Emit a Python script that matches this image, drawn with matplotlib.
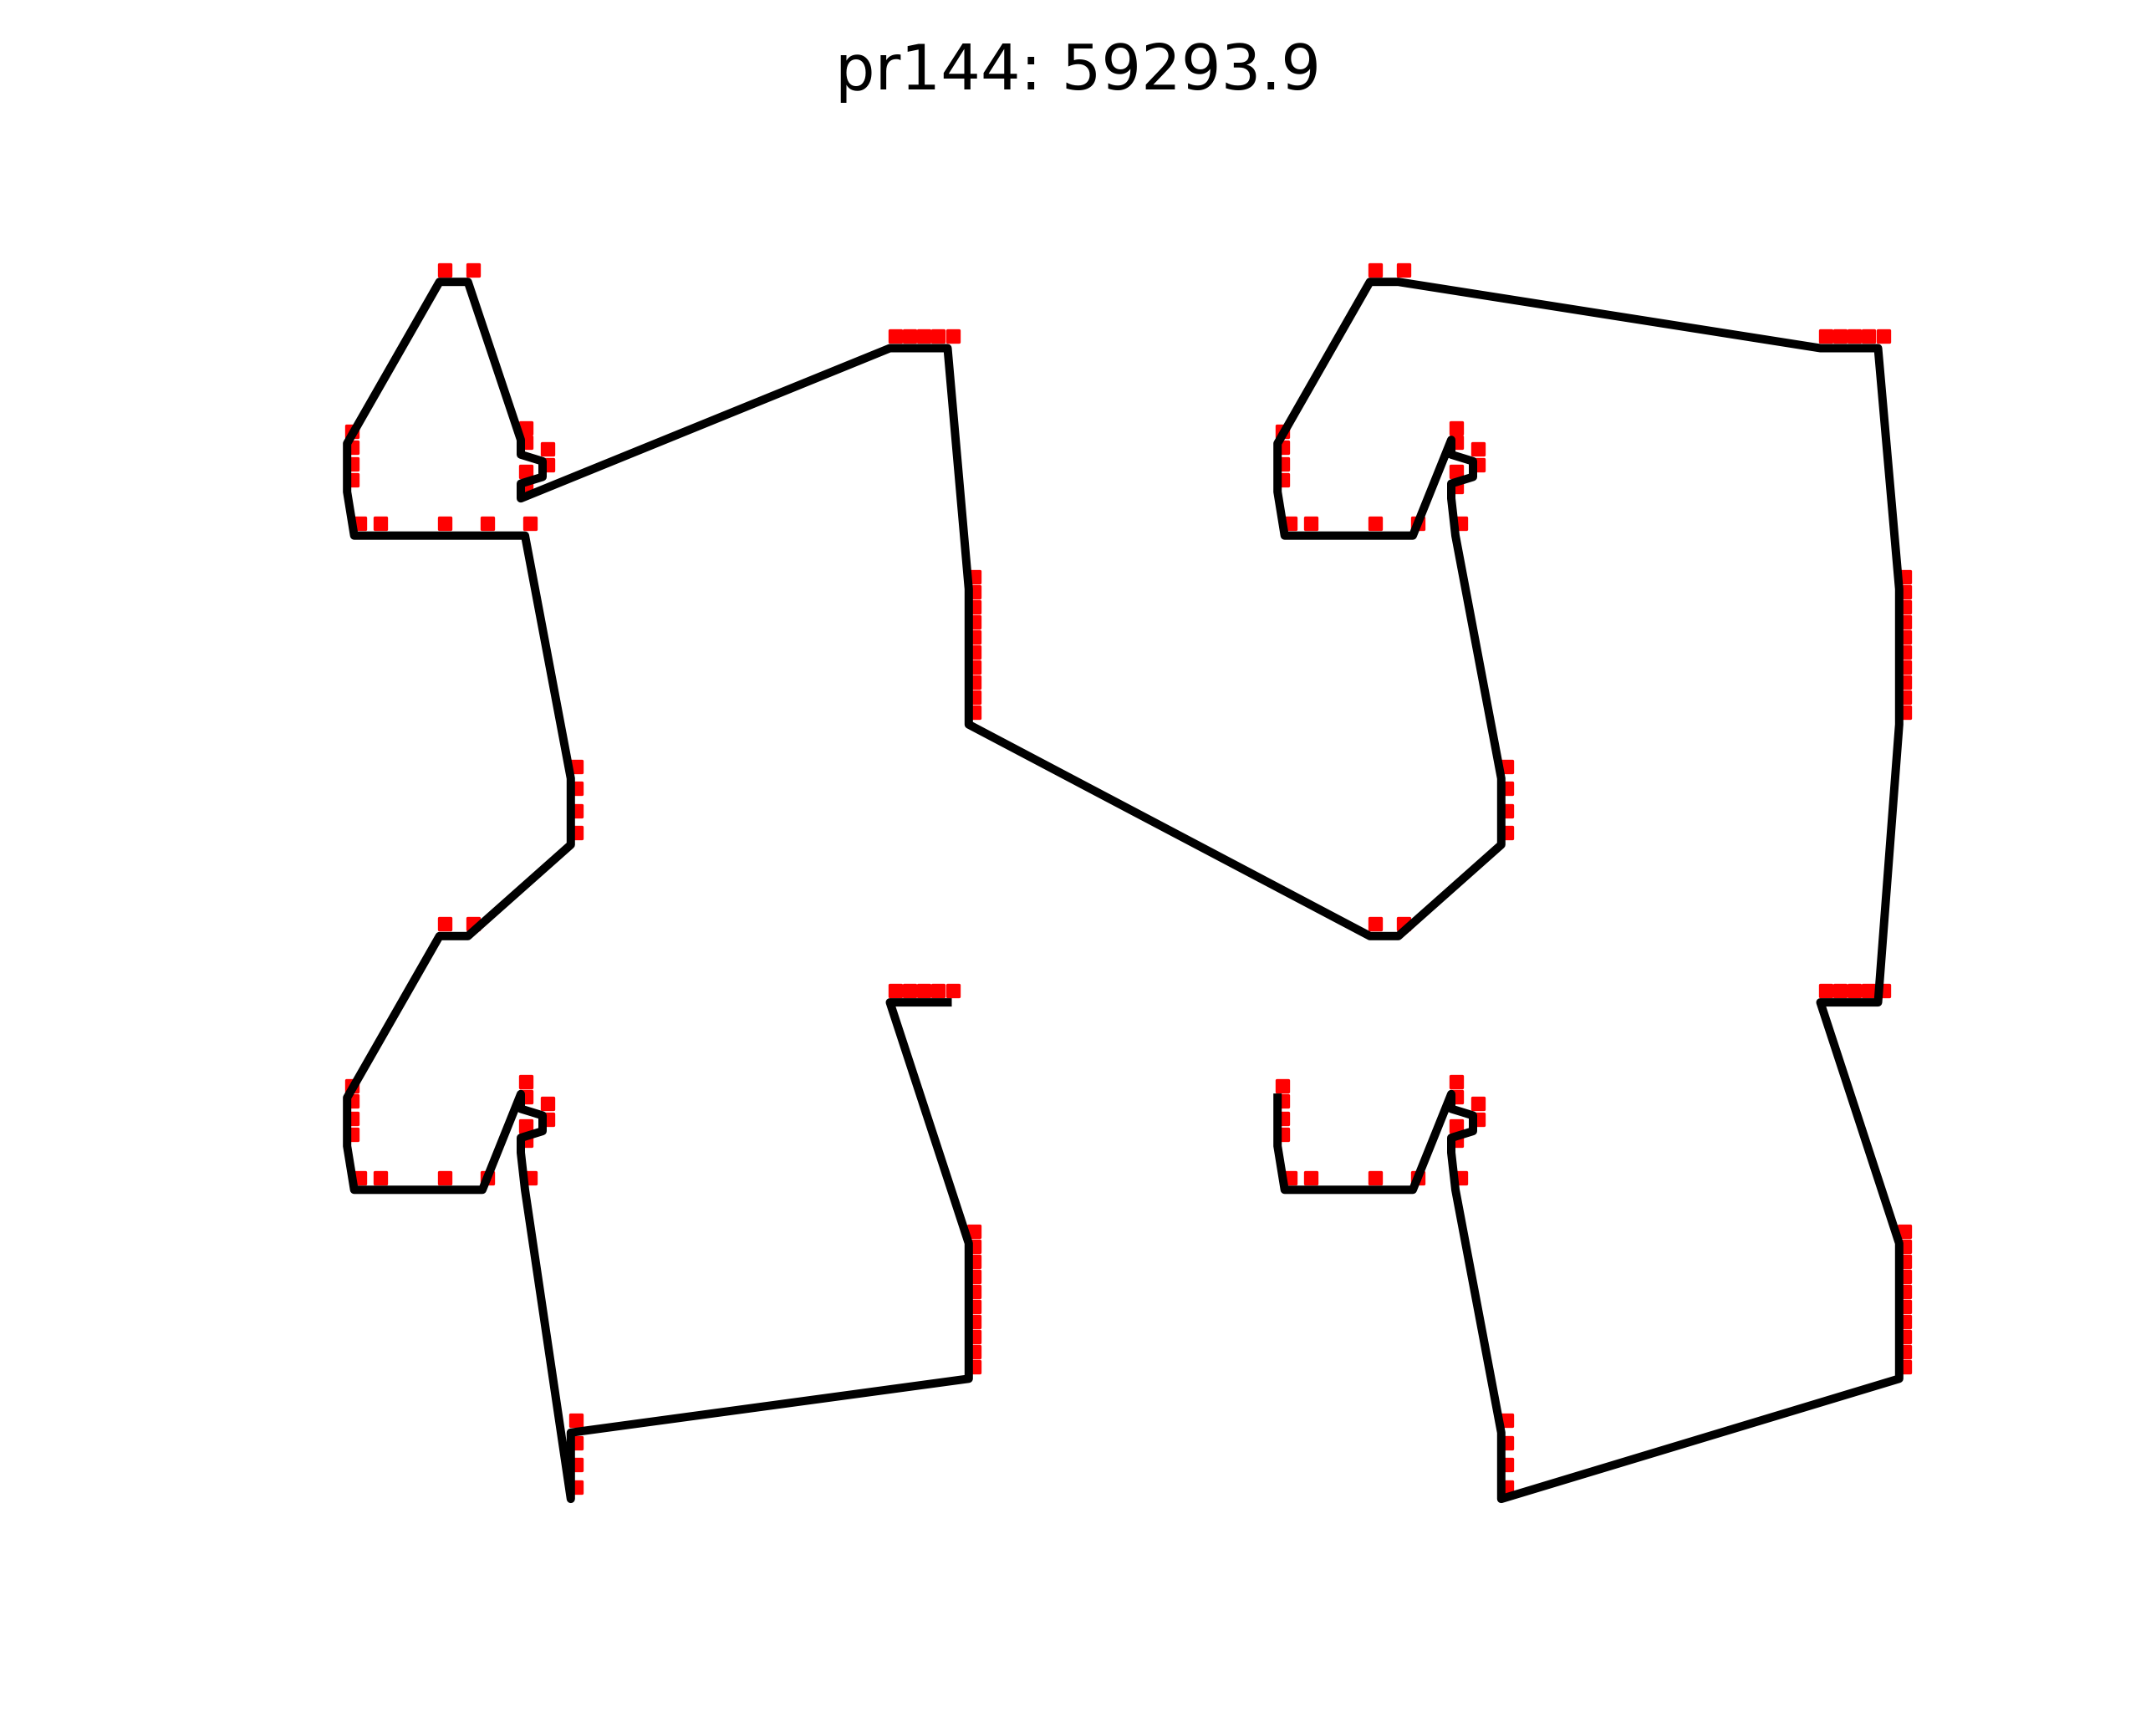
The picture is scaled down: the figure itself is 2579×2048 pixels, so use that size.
import matplotlib
matplotlib.use("Agg")
import matplotlib.pyplot as plt
import matplotlib.transforms as mtransforms
from matplotlib.markers import MarkerStyle

title = "pr144: 59293.9"

# Tour order (open path), city coordinates
# --- lower-right block
x_br = [1528.2, 1528.2, 1528.2, 1528.2,
        1536.7, 1561.7, 1639.0, 1690.0,
        1736.0, 1736.0, 1762.0, 1762.0, 1736.0, 1736.0,
        1741.0,
        1795.8, 1795.8, 1795.8, 1795.8,
        2271.8, 2271.8, 2271.8, 2271.8, 2271.8, 2271.8, 2271.8, 2271.8, 2271.8, 2271.8,
        2177.5, 2194.8, 2212.0, 2229.3, 2246.5]
y_br = [734.9, 716.4, 695.5, 677.0,
        624.7, 624.7, 624.7, 624.7,
        739.2, 721.6, 713.6, 694.9, 686.9, 669.2,
        624.7,
        334.2, 307.9, 281.2, 254.9,
        398.7, 416.7, 434.7, 452.7, 470.7, 488.7, 506.7, 524.7, 542.7, 560.7,
        848.9, 848.9, 848.9, 848.9, 848.9]

# --- upper-right block
x_tr = [2271.8, 2271.8, 2271.8, 2271.8, 2271.8, 2271.8, 2271.8, 2271.8, 2271.8, 2271.8,
        2246.5, 2229.3, 2212.0, 2194.8, 2177.5,
        1672.7, 1638.7,
        1528.2, 1528.2, 1528.2, 1528.2,
        1536.7, 1561.7, 1639.0, 1690.0,
        1736.0, 1736.0, 1762.0, 1762.0, 1736.0, 1736.0,
        1741.0,
        1795.8, 1795.8, 1795.8, 1795.8,
        1672.7, 1638.7]
y_tr = [1181.3, 1199.3, 1217.3, 1235.3, 1253.3, 1271.3, 1289.3, 1307.3, 1325.3, 1343.3,
        1631.5, 1631.5, 1631.5, 1631.5, 1631.5,
        1710.8, 1710.8,
        1517.5, 1499.0, 1478.1, 1459.6,
        1407.3, 1407.3, 1407.3, 1407.3,
        1521.8, 1504.2, 1496.2, 1477.5, 1469.5, 1451.8,
        1407.3,
        1116.8, 1090.5, 1063.8, 1037.5,
        928.2, 928.2]

# --- upper-left block
x_tl = [1158.8, 1158.8, 1158.8, 1158.8, 1158.8, 1158.8, 1158.8, 1158.8, 1158.8, 1158.8,
        1133.5, 1116.3, 1099.0, 1081.8, 1064.5,
        623.0, 623.0, 649.0, 649.0, 623.0, 623.0,
        559.7, 525.7,
        415.2, 415.2, 415.2, 415.2,
        423.7, 448.7, 526.0, 577.0, 628.0,
        682.8, 682.8, 682.8, 682.8]
y_tl = [1181.3, 1199.3, 1217.3, 1235.3, 1253.3, 1271.3, 1289.3, 1307.3, 1325.3, 1343.3,
        1631.5, 1631.5, 1631.5, 1631.5, 1631.5,
        1451.8, 1469.5, 1477.5, 1496.2, 1504.2, 1521.8,
        1710.8, 1710.8,
        1517.5, 1499.0, 1478.1, 1459.6,
        1407.3, 1407.3, 1407.3, 1407.3, 1407.3,
        1116.8, 1090.5, 1063.8, 1037.5]

# --- lower-left block
x_bl = [559.7, 525.7,
        415.2, 415.2, 415.2, 415.2,
        423.7, 448.7, 526.0, 577.0,
        623.0, 623.0, 649.0, 649.0, 623.0, 623.0,
        628.0,
        682.8, 682.8, 682.8, 682.8,
        1158.8, 1158.8, 1158.8, 1158.8, 1158.8, 1158.8, 1158.8, 1158.8, 1158.8, 1158.8,
        1064.5, 1081.8, 1099.0, 1116.3, 1133.5]
y_bl = [928.2, 928.2,
        734.9, 716.4, 695.5, 677.0,
        624.7, 624.7, 624.7, 624.7,
        739.2, 721.6, 713.6, 694.9, 686.9, 669.2,
        624.7,
        254.9, 281.2, 307.9, 334.2,
        398.7, 416.7, 434.7, 452.7, 470.7, 488.7, 506.7, 524.7, 542.7, 560.7,
        848.9, 848.9, 848.9, 848.9, 848.9]

tour_x = x_br + x_tr + x_tl + x_bl
tour_y = y_br + y_tr + y_tl + y_bl

W, H, DPI = 2579, 2048, 200
fig = plt.figure(figsize=(W / DPI, H / DPI), dpi=DPI)
ax = fig.add_axes([0, 0, 1, 1])
ax.set_xlim(0, W)
ax.set_ylim(0, H)
ax.axis("off")

# city markers (drawn slightly shifted, under the tour line)
mtrans = mtransforms.offset_copy(ax.transData, fig=fig, x=6, y=14.5, units="dots")
ax.plot(tour_x, tour_y, linestyle="none",
        marker=MarkerStyle("s", joinstyle="round"),
        markersize=5.3, markeredgewidth=1.2,
        markerfacecolor="red", markeredgecolor="red",
        transform=mtrans, zorder=2)

# tour path
ax.plot(tour_x, tour_y, color="black", linewidth=3.6, zorder=3)

fig.text(0.5, 1 - 106.7 / H, title, ha="center", va="baseline",
         fontsize=27, family=["DejaVu Sans"])

fig.savefig("out.png", dpi=DPI)
